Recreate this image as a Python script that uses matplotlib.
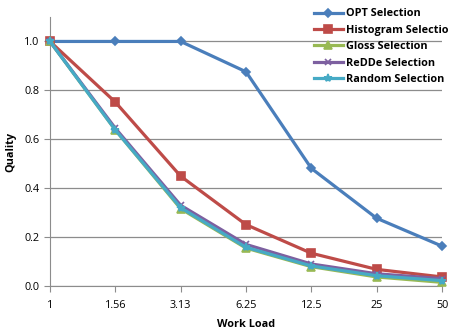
import matplotlib
matplotlib.use("Agg")
import matplotlib.pyplot as plt

loads = ["1", "1.56", "3.13", "6.25", "12.5", "25", "50"]
opt = [1.0, 1.0, 1.0, 0.876, 0.481, 0.277, 0.163]
histogram = [1.0, 0.752, 0.449, 0.251, 0.134, 0.068, 0.037]
gloss = [1.0, 0.638, 0.316, 0.155, 0.079, 0.037, 0.015]
redde = [1.0, 0.645, 0.330, 0.170, 0.090, 0.050, 0.030]
random_sel = [1.0, 0.638, 0.320, 0.158, 0.082, 0.042, 0.022]

plt.rcParams["font.family"] = ["Open Sans", "DejaVu Sans"]

fig = plt.figure(figsize=(4.49, 3.31), dpi=100)
ax = fig.add_axes([50 / 449, 45 / 331, 392 / 449, 269 / 331])

x = list(range(len(loads)))
series = [
    ("OPT Selection", opt, "#4A7EBB", "D", 4.5),
    ("Histogram Selection", histogram, "#BE4B48", "s", 6),
    ("Gloss Selection", gloss, "#98B954", "^", 5.5),
    ("ReDDe Selection", redde, "#7D60A0", "x", 5),
    ("Random Selection", random_sel, "#46AAC5", "*", 6),
]
for name, vals, col, mk, ms in series:
    ax.plot(x, vals, color=col, lw=2.3, marker=mk, ms=ms, mew=1.2,
            mfc=col, mec=col, label=name, clip_on=False, zorder=3)

ax.set_xlim(0, len(loads) - 1)
ax.set_ylim(0, 1.1)
ax.set_xticks(x)
ax.set_xticklabels(loads)
ax.set_yticks([0.0, 0.2, 0.4, 0.6, 0.8, 1.0])
ax.set_yticklabels(["0.0", "0.2", "0.4", "0.6", "0.8", "1.0"])
ax.yaxis.grid(True, color="#8c8c8c", lw=0.9)
ax.set_axisbelow(True)
for s in ("top", "right"):
    ax.spines[s].set_visible(False)
for s in ("left", "bottom"):
    ax.spines[s].set_color("#8c8c8c")
ax.tick_params(colors="#8c8c8c", labelcolor="black", labelsize=7.8,
               length=4, direction="out")
ax.tick_params(axis="x", pad=6)
ax.set_xlabel("Work Load", fontsize=7.8, fontweight="bold", labelpad=6)
ax.set_ylabel("Quality", fontsize=7.8, fontweight="bold", labelpad=6)

fig.legend(loc="upper left", bbox_to_anchor=(310 / 449, 1 - 4 / 331),
           frameon=False, handlelength=2.6, handletextpad=0.3,
           labelspacing=0.5, borderaxespad=0,
           prop={"weight": "bold", "size": 7.8})

fig.savefig("out.png", dpi=100)
